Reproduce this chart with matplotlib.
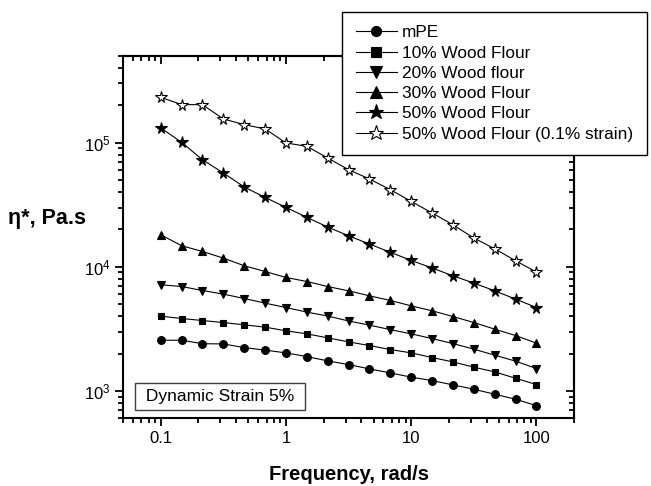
import matplotlib
matplotlib.use('Agg')
import matplotlib.pyplot as plt
from matplotlib.ticker import FixedLocator, NullFormatter

plt.rcParams['font.family'] = ['Liberation Sans', 'DejaVu Sans']
plt.rcParams['mathtext.default'] = 'regular'

# frequency sweep, 6 points per decade from 0.1 to 100 rad/s
freq = [0.1, 0.147, 0.215, 0.316, 0.464, 0.681, 1.0, 1.47, 2.15, 3.16,
        4.64, 6.81, 10.0, 14.7, 21.5, 31.6, 46.4, 68.1, 100.0]

eta_mpe = [2560, 2560, 2400, 2390, 2235, 2130, 2025, 1890, 1746, 1630,
           1504, 1397, 1290, 1211, 1118, 1032, 940, 857, 761]
eta_wf10 = [4000, 3830, 3690, 3555, 3405, 3264, 3048, 2882, 2675, 2484,
            2319, 2153, 2025, 1856, 1713, 1553, 1423, 1265, 1124]
eta_wf20 = [7160, 6935, 6440, 6025, 5550, 5095, 4695, 4313, 4010, 3660,
            3388, 3116, 2882, 2640, 2406, 2170, 1940, 1737, 1513]
eta_wf30 = [18120, 14770, 13290, 11750, 10190, 9165, 8200, 7610, 6935, 6400,
            5835, 5350, 4845, 4418, 3975, 3555, 3145, 2792, 2425]
eta_wf50 = [131400, 100500, 72950, 56990, 43940, 36220, 30080, 24990, 20900, 17780,
            15240, 13090, 11240, 9770, 8460, 7390, 6400, 5490, 4695]
eta_wf50_low = [231900, 202400, 202400, 155300, 139700, 129000, 99500, 93350, 75300, 60560,
                50980, 41800, 33630, 27110, 21810, 17040, 13970, 11180, 9060]

labels = ['mPE', '10% Wood Flour', '20% Wood flour', '30% Wood Flour',
          '50% Wood Flour', '50% Wood Flour (0.1% strain)']

fig = plt.figure(figsize=(6.51, 4.86), dpi=100)
ax = fig.add_axes([0.189, 0.139, 0.693, 0.746])

series = [
    (eta_mpe, 'o', 'black', 5.6),
    (eta_wf10, 's', 'black', 5.0),
    (eta_wf20, 'v', 'black', 6.2),
    (eta_wf30, '^', 'black', 6.2),
    (eta_wf50, '*', 'black', 8.5),
    (eta_wf50_low, '*', 'white', 8.5),
]
for (vals, mk, fc, ms), lab in zip(series, labels):
    ax.plot(freq, vals, color='black', linewidth=0.8, marker=mk, markersize=ms,
            markerfacecolor=fc, markeredgecolor='black', markeredgewidth=0.8,
            label=lab)

ax.set_xscale('log')
ax.set_yscale('log')
ax.set_xlim(0.05, 200)
ax.set_ylim(600, 5e5)

ax.xaxis.set_major_locator(FixedLocator([0.1, 1, 10, 100]))
ax.set_xticklabels(['0.1', '1', '10', '100'])

for s in ax.spines.values():
    s.set_linewidth(1.5)
ax.tick_params(which='both', direction='out', labelsize=12, width=1.3)
ax.tick_params(which='major', length=6, pad=3)
ax.tick_params(which='minor', length=3.5)

# mirrored ticks on top and right point inward
top = ax.secondary_xaxis('top', functions=(lambda x: x, lambda x: x))
top.tick_params(which='both', direction='in', labeltop=False, width=1.3)
top.tick_params(which='major', length=6)
top.tick_params(which='minor', length=3.5)
top.xaxis.set_minor_formatter(NullFormatter())
right = ax.secondary_yaxis('right', functions=(lambda y: y, lambda y: y))
right.tick_params(which='both', direction='in', labelright=False, width=1.3)
right.tick_params(which='major', length=6)
right.tick_params(which='minor', length=3.5)
right.yaxis.set_minor_formatter(NullFormatter())
for sec in (top, right):
    for s in sec.spines.values():
        s.set_linewidth(1.5)

ax.set_xlabel('Frequency, rad/s', fontsize=14.5, fontweight='bold', labelpad=14)
fig.text(0.012, 0.551, 'η*, Pa.s', fontsize=15.5, fontweight='bold',
         ha='left', va='center')

ax.text(0.040, 0.060, ' Dynamic Strain 5% ', transform=ax.transAxes,
        fontsize=12.5, ha='left', va='center',
        bbox=dict(boxstyle='square,pad=0.35', facecolor='white',
                  edgecolor='0.25', linewidth=1))

leg = ax.legend(loc='upper left', bbox_to_anchor=(0.525, 0.976),
                bbox_transform=fig.transFigure, fontsize=12.4, frameon=True,
                fancybox=False, edgecolor='black', numpoints=1, markerscale=1.3,
                handlelength=2.4, handletextpad=0.3, labelspacing=0.3,
                borderpad=0.8, borderaxespad=0)
leg.get_frame().set_linewidth(1.0)
leg.get_frame().set_alpha(1)

plt.savefig('out.png', dpi=100)
